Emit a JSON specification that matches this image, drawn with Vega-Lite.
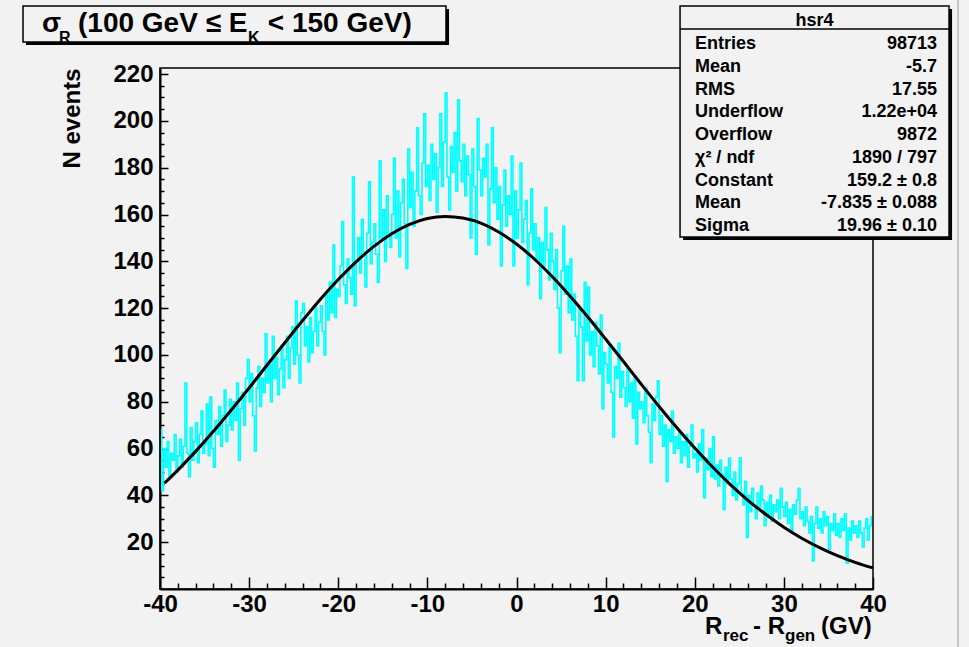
{
 "$schema": "https://vega.github.io/schema/vega-lite/v6.json",
 "width": 713,
 "height": 521,
 "autosize": "none",
 "padding": {"left": 160, "top": 68, "right": 96, "bottom": 58},
 "background": "#f2f2f2",
 "config": {"view": {"stroke": "#000", "strokeWidth": 1.5, "fill": "#f2f2f2"}, "font": "Liberation Sans"},
 "datasets": {
  "hist": [
{"x":-39.9,"n":68},{"x":-39.7,"n":42},{"x":-39.5,"n":60},{"x":-39.3,"n":52},{"x":-39.1,"n":63},{"x":-38.9,"n":48},{"x":-38.7,"n":58},{"x":-38.5,"n":55},{"x":-38.3,"n":66},{"x":-38.1,"n":50},
{"x":-37.9,"n":57},{"x":-37.7,"n":64},{"x":-37.5,"n":52},{"x":-37.3,"n":61},{"x":-37.1,"n":88},{"x":-36.9,"n":58},{"x":-36.7,"n":48},{"x":-36.5,"n":69},{"x":-36.3,"n":55},{"x":-36.1,"n":63},
{"x":-35.9,"n":71},{"x":-35.7,"n":54},{"x":-35.5,"n":66},{"x":-35.3,"n":76},{"x":-35.1,"n":58},{"x":-34.9,"n":62},{"x":-34.7,"n":79},{"x":-34.5,"n":57},{"x":-34.3,"n":82},{"x":-34.1,"n":60},
{"x":-33.9,"n":52},{"x":-33.7,"n":72},{"x":-33.5,"n":66},{"x":-33.3,"n":78},{"x":-33.1,"n":61},{"x":-32.9,"n":74},{"x":-32.7,"n":85},{"x":-32.5,"n":63},{"x":-32.3,"n":70},{"x":-32.1,"n":81},
{"x":-31.9,"n":68},{"x":-31.7,"n":80},{"x":-31.5,"n":72},{"x":-31.3,"n":88},{"x":-31.1,"n":55},{"x":-30.9,"n":77},{"x":-30.7,"n":84},{"x":-30.5,"n":70},{"x":-30.3,"n":90},{"x":-30.1,"n":98},
{"x":-29.9,"n":80},{"x":-29.7,"n":92},{"x":-29.5,"n":74},{"x":-29.3,"n":59},{"x":-29.1,"n":86},{"x":-28.9,"n":95},{"x":-28.7,"n":78},{"x":-28.5,"n":90},{"x":-28.3,"n":84},{"x":-28.1,"n":109},
{"x":-27.9,"n":88},{"x":-27.7,"n":96},{"x":-27.5,"n":80},{"x":-27.3,"n":108},{"x":-27.1,"n":90},{"x":-26.9,"n":99},{"x":-26.7,"n":83},{"x":-26.5,"n":94},{"x":-26.3,"n":104},{"x":-26.1,"n":86},
{"x":-25.9,"n":98},{"x":-25.7,"n":108},{"x":-25.5,"n":90},{"x":-25.3,"n":103},{"x":-25.1,"n":112},{"x":-24.9,"n":96},{"x":-24.7,"n":123},{"x":-24.5,"n":100},{"x":-24.3,"n":88},{"x":-24.1,"n":118},
{"x":-23.9,"n":122},{"x":-23.7,"n":104},{"x":-23.5,"n":112},{"x":-23.3,"n":97},{"x":-23.1,"n":116},{"x":-22.9,"n":101},{"x":-22.7,"n":110},{"x":-22.5,"n":120},{"x":-22.3,"n":104},{"x":-22.1,"n":114},
{"x":-21.9,"n":121},{"x":-21.7,"n":110},{"x":-21.5,"n":100},{"x":-21.3,"n":126},{"x":-21.1,"n":115},{"x":-20.9,"n":131},{"x":-20.7,"n":118},{"x":-20.5,"n":147},{"x":-20.3,"n":116},{"x":-20.1,"n":128},
{"x":-19.9,"n":125},{"x":-19.7,"n":138},{"x":-19.5,"n":157},{"x":-19.3,"n":130},{"x":-19.1,"n":122},{"x":-18.9,"n":141},{"x":-18.7,"n":133},{"x":-18.5,"n":126},{"x":-18.3,"n":176},{"x":-18.1,"n":121},
{"x":-17.9,"n":140},{"x":-17.7,"n":150},{"x":-17.5,"n":135},{"x":-17.3,"n":158},{"x":-17.1,"n":144},{"x":-16.9,"n":129},{"x":-16.7,"n":152},{"x":-16.5,"n":174},{"x":-16.3,"n":139},{"x":-16.1,"n":148},
{"x":-15.9,"n":156},{"x":-15.7,"n":143},{"x":-15.5,"n":131},{"x":-15.3,"n":183},{"x":-15.1,"n":150},{"x":-14.9,"n":162},{"x":-14.7,"n":140},{"x":-14.5,"n":168},{"x":-14.3,"n":152},{"x":-14.1,"n":146},
{"x":-13.9,"n":160},{"x":-13.7,"n":184},{"x":-13.5,"n":150},{"x":-13.3,"n":170},{"x":-13.1,"n":142},{"x":-12.9,"n":165},{"x":-12.7,"n":175},{"x":-12.5,"n":156},{"x":-12.3,"n":137},{"x":-12.1,"n":188},
{"x":-11.9,"n":163},{"x":-11.7,"n":178},{"x":-11.5,"n":155},{"x":-11.3,"n":170},{"x":-11.1,"n":197},{"x":-10.9,"n":168},{"x":-10.7,"n":160},{"x":-10.5,"n":182},{"x":-10.3,"n":203},{"x":-10.1,"n":172},
{"x":-9.9,"n":181},{"x":-9.7,"n":166},{"x":-9.5,"n":190},{"x":-9.3,"n":175},{"x":-9.1,"n":186},{"x":-8.9,"n":161},{"x":-8.7,"n":180},{"x":-8.5,"n":203},{"x":-8.3,"n":172},{"x":-8.1,"n":191},
{"x":-7.9,"n":212},{"x":-7.7,"n":176},{"x":-7.5,"n":162},{"x":-7.3,"n":189},{"x":-7.1,"n":178},{"x":-6.9,"n":195},{"x":-6.7,"n":170},{"x":-6.5,"n":209},{"x":-6.3,"n":183},{"x":-6.1,"n":174},
{"x":-5.9,"n":190},{"x":-5.7,"n":168},{"x":-5.5,"n":185},{"x":-5.3,"n":177},{"x":-5.1,"n":150},{"x":-4.9,"n":188},{"x":-4.7,"n":172},{"x":-4.5,"n":143},{"x":-4.3,"n":201},{"x":-4.1,"n":179},
{"x":-3.9,"n":168},{"x":-3.7,"n":184},{"x":-3.5,"n":176},{"x":-3.3,"n":190},{"x":-3.1,"n":147},{"x":-2.9,"n":171},{"x":-2.7,"n":197},{"x":-2.5,"n":165},{"x":-2.3,"n":180},{"x":-2.1,"n":158},
{"x":-1.9,"n":172},{"x":-1.7,"n":138},{"x":-1.5,"n":164},{"x":-1.3,"n":179},{"x":-1.1,"n":155},{"x":-0.9,"n":168},{"x":-0.7,"n":160},{"x":-0.5,"n":185},{"x":-0.3,"n":138},{"x":-0.1,"n":170},
{"x":0.1,"n":150},{"x":0.3,"n":162},{"x":0.5,"n":182},{"x":0.7,"n":148},{"x":0.9,"n":158},{"x":1.1,"n":166},{"x":1.3,"n":130},{"x":1.5,"n":152},{"x":1.7,"n":171},{"x":1.9,"n":145},
{"x":2.1,"n":156},{"x":2.3,"n":140},{"x":2.5,"n":150},{"x":2.7,"n":124},{"x":2.9,"n":148},{"x":3.1,"n":138},{"x":3.3,"n":163},{"x":3.5,"n":145},{"x":3.7,"n":132},{"x":3.9,"n":152},
{"x":4.1,"n":140},{"x":4.3,"n":128},{"x":4.5,"n":145},{"x":4.7,"n":120},{"x":4.9,"n":101},{"x":5.1,"n":136},{"x":5.3,"n":155},{"x":5.5,"n":126},{"x":5.7,"n":138},{"x":5.9,"n":118},
{"x":6.1,"n":141},{"x":6.3,"n":115},{"x":6.5,"n":126},{"x":6.7,"n":108},{"x":6.9,"n":89},{"x":7.1,"n":120},{"x":7.3,"n":112},{"x":7.5,"n":89},{"x":7.7,"n":131},{"x":7.9,"n":106},
{"x":8.1,"n":129},{"x":8.3,"n":100},{"x":8.5,"n":110},{"x":8.7,"n":95},{"x":8.9,"n":114},{"x":9.1,"n":104},{"x":9.3,"n":92},{"x":9.5,"n":117},{"x":9.7,"n":77},{"x":9.9,"n":101},
{"x":10.1,"n":96},{"x":10.3,"n":88},{"x":10.5,"n":104},{"x":10.7,"n":84},{"x":10.9,"n":65},{"x":11.1,"n":95},{"x":11.3,"n":90},{"x":11.5,"n":105},{"x":11.7,"n":82},{"x":11.9,"n":93},
{"x":12.1,"n":86},{"x":12.3,"n":78},{"x":12.5,"n":95},{"x":12.7,"n":80},{"x":12.9,"n":88},{"x":13.1,"n":73},{"x":13.3,"n":91},{"x":13.5,"n":62},{"x":13.7,"n":84},{"x":13.9,"n":77},
{"x":14.1,"n":80},{"x":14.3,"n":71},{"x":14.5,"n":86},{"x":14.7,"n":74},{"x":14.9,"n":67},{"x":15.1,"n":54},{"x":15.3,"n":79},{"x":15.5,"n":72},{"x":15.7,"n":82},{"x":15.9,"n":89},
{"x":16.1,"n":66},{"x":16.3,"n":74},{"x":16.5,"n":61},{"x":16.7,"n":70},{"x":16.9,"n":46},{"x":17.1,"n":68},{"x":17.3,"n":63},{"x":17.5,"n":76},{"x":17.7,"n":58},{"x":17.9,"n":65},
{"x":18.1,"n":60},{"x":18.3,"n":67},{"x":18.5,"n":54},{"x":18.7,"n":63},{"x":18.9,"n":57},{"x":19.1,"n":66},{"x":19.3,"n":52},{"x":19.5,"n":61},{"x":19.7,"n":70},{"x":19.9,"n":56},
{"x":20.1,"n":58},{"x":20.3,"n":50},{"x":20.5,"n":62},{"x":20.7,"n":55},{"x":20.9,"n":68},{"x":21.1,"n":39},{"x":21.3,"n":56},{"x":21.5,"n":51},{"x":21.7,"n":60},{"x":21.9,"n":48},
{"x":22.1,"n":65},{"x":22.3,"n":47},{"x":22.5,"n":53},{"x":22.7,"n":44},{"x":22.9,"n":55},{"x":23.1,"n":49},{"x":23.3,"n":34},{"x":23.5,"n":52},{"x":23.7,"n":45},{"x":23.9,"n":56},
{"x":24.1,"n":47},{"x":24.3,"n":40},{"x":24.5,"n":50},{"x":24.7,"n":38},{"x":24.9,"n":45},{"x":25.1,"n":56},{"x":25.3,"n":41},{"x":25.5,"n":36},{"x":25.7,"n":46},{"x":25.9,"n":22},
{"x":26.1,"n":40},{"x":26.3,"n":33},{"x":26.5,"n":43},{"x":26.7,"n":36},{"x":26.9,"n":30},{"x":27.1,"n":41},{"x":27.3,"n":35},{"x":27.5,"n":44},{"x":27.7,"n":38},{"x":27.9,"n":27},
{"x":28.1,"n":37},{"x":28.3,"n":32},{"x":28.5,"n":40},{"x":28.7,"n":29},{"x":28.9,"n":36},{"x":29.1,"n":33},{"x":29.3,"n":38},{"x":29.5,"n":30},{"x":29.7,"n":43},{"x":29.9,"n":35},
{"x":30.1,"n":31},{"x":30.3,"n":37},{"x":30.5,"n":28},{"x":30.7,"n":34},{"x":30.9,"n":25},{"x":31.1,"n":36},{"x":31.3,"n":32},{"x":31.5,"n":38},{"x":31.7,"n":43},{"x":31.9,"n":30},
{"x":32.1,"n":33},{"x":32.3,"n":27},{"x":32.5,"n":35},{"x":32.7,"n":29},{"x":32.9,"n":24},{"x":33.1,"n":31},{"x":33.3,"n":12},{"x":33.5,"n":28},{"x":33.7,"n":35},{"x":33.9,"n":26},
{"x":34.1,"n":30},{"x":34.3,"n":24},{"x":34.5,"n":33},{"x":34.7,"n":27},{"x":34.9,"n":31},{"x":35.1,"n":17},{"x":35.3,"n":28},{"x":35.5,"n":25},{"x":35.7,"n":32},{"x":35.9,"n":23},
{"x":36.1,"n":28},{"x":36.3,"n":22},{"x":36.5,"n":30},{"x":36.7,"n":25},{"x":36.9,"n":32},{"x":37.1,"n":11},{"x":37.3,"n":26},{"x":37.5,"n":21},{"x":37.7,"n":29},{"x":37.9,"n":24},
{"x":38.1,"n":27},{"x":38.3,"n":22},{"x":38.5,"n":29},{"x":38.7,"n":24},{"x":38.9,"n":18},{"x":39.1,"n":26},{"x":39.3,"n":30},{"x":39.5,"n":21},{"x":39.7,"n":27},{"x":39.9,"n":31}
  ],
  "fit": [
{"x":-39.5,"f":45.2},{"x":-38,"f":50.8},{"x":-36,"f":58.8},{"x":-34,"f":67.4},{"x":-32,"f":76.5},{"x":-30,"f":85.9},{"x":-28,"f":95.6},{"x":-26,"f":105.2},{"x":-24,"f":114.7},{"x":-22,"f":123.8},{"x":-20,"f":132.2},{"x":-18,"f":139.8},{"x":-16,"f":146.4},{"x":-14,"f":151.8},{"x":-12,"f":155.8},{"x":-10,"f":158.3},{"x":-8,"f":159.2},{"x":-6,"f":158.5},{"x":-4,"f":156.3},{"x":-2,"f":152.5},{"x":0,"f":147.4},{"x":2,"f":141.0},{"x":4,"f":133.5},{"x":6,"f":125.2},{"x":8,"f":116.2},{"x":10,"f":106.8},{"x":12,"f":97.2},{"x":14,"f":87.5},{"x":16,"f":78.0},{"x":18,"f":68.9},{"x":20,"f":60.2},{"x":22,"f":52.1},{"x":24,"f":44.6},{"x":26,"f":37.8},{"x":28,"f":31.8},{"x":30,"f":26.4},{"x":32,"f":21.7},{"x":34,"f":17.7},{"x":36,"f":14.3},{"x":38,"f":11.4},{"x":40,"f":9.0}
  ]
 },
 "resolve": {"axis": {"x": "independent", "y": "independent"}},
 "layer": [
  {
   "data": {"name": "hist"},
   "mark": {"type": "line", "interpolate": "step", "color": "#00ffff", "strokeWidth": 1.6},
   "encoding": {
    "x": {"field": "x", "type": "quantitative", "scale": {"domain": [-40, 40], "nice": false, "zero": false},
     "axis": {"orient": "bottom", "values": [-40, -30, -20, -10, 0, 10, 20, 30, 40], "title": null, "grid": false, "domain": true, "domainColor": "#000", "domainWidth": 2, "tickSize": -12, "tickColor": "#000", "tickWidth": 1.5, "labelFont": "Liberation Sans", "labelFontWeight": "bold", "labelFontSize": 24, "labelColor": "#000", "labelPadding": 15, "labelFlush": false, "labelOverlap": false, "labelExpr": "'' + datum.value"}},
    "y": {"field": "n", "type": "quantitative", "scale": {"domain": [0, 222.6], "nice": false, "zero": false},
     "axis": {"orient": "left", "values": [20, 40, 60, 80, 100, 120, 140, 160, 180, 200, 220], "title": "N events", "titleFont": "Liberation Sans", "titleFontWeight": "bold", "titleFontSize": 24, "titleColor": "#000", "titleAngle": 270, "titleAlign": "right", "titleBaseline": "alphabetic", "titleX": -80.7, "titleY": 0, "grid": false, "domain": true, "domainColor": "#000", "domainWidth": 2, "tickSize": -8, "tickColor": "#000", "tickWidth": 1.5, "labelFont": "Liberation Sans", "labelFontWeight": "bold", "labelFontSize": 24, "labelColor": "#000", "labelPadding": 15, "labelOverlap": false}}
   }
  },
  {
   "data": {"name": "fit"},
   "mark": {"type": "line", "interpolate": "monotone", "color": "#000", "strokeWidth": 3},
   "encoding": {
    "x": {"field": "x", "type": "quantitative", "scale": {"domain": [-40, 40], "nice": false, "zero": false},
     "axis": {"orient": "bottom", "values": [-38, -36, -34, -32, -28, -26, -24, -22, -18, -16, -14, -12, -8, -6, -4, -2, 2, 4, 6, 8, 12, 14, 16, 18, 22, 24, 26, 28, 32, 34, 36, 38], "title": null, "grid": false, "domain": false, "labels": false, "tickSize": -6, "tickColor": "#000", "tickWidth": 1.5}},
    "y": {"field": "f", "type": "quantitative", "scale": {"domain": [0, 222.6], "nice": false, "zero": false},
     "axis": {"orient": "left", "values": [5, 10, 15, 25, 30, 35, 45, 50, 55, 65, 70, 75, 85, 90, 95, 105, 110, 115, 125, 130, 135, 145, 150, 155, 165, 170, 175, 185, 190, 195, 205, 210, 215], "title": null, "grid": false, "domain": false, "labels": false, "tickSize": -4, "tickColor": "#000", "tickWidth": 1.5}}
   }
  },
  {
   "data": {"values": [{}]},
   "mark": {"type": "rule", "color": "#9a9a9a", "strokeWidth": 1},
   "encoding": {
    "x": {"datum": 49.54, "type": "quantitative", "scale": {"domain": [-40, 40], "nice": false, "zero": false}, "axis": null},
    "y": {"datum": 251.6, "type": "quantitative", "scale": {"domain": [0, 222.6], "nice": false, "zero": false}, "axis": null},
    "y2": {"datum": -24.8}
   }
  },
  {
   "data": {"values": [{}]},
   "mark": {"type": "rect", "fill": "#000"},
   "encoding": {
    "x": {"datum": -55.03, "type": "quantitative", "scale": {"domain": [-40, 40], "nice": false, "zero": false}, "axis": null},
    "x2": {"datum": -7.57},
    "y": {"datum": 247.8, "type": "quantitative", "scale": {"domain": [0, 222.6], "nice": false, "zero": false}, "axis": null},
    "y2": {"datum": 232.4}
   }
  },
  {
   "data": {"values": [{}]},
   "mark": {"type": "rect", "fill": "#f2f2f2", "stroke": "#000", "strokeWidth": 1.5},
   "encoding": {
    "x": {"datum": -55.37, "type": "quantitative", "scale": {"domain": [-40, 40], "nice": false, "zero": false}, "axis": null},
    "x2": {"datum": -7.91},
    "y": {"datum": 249.1, "type": "quantitative", "scale": {"domain": [0, 222.6], "nice": false, "zero": false}, "axis": null},
    "y2": {"datum": 233.7}
   }
  },
  {
   "data": {"values": [{}]},
   "mark": {"type": "text", "align": "left", "baseline": "alphabetic", "font": "Liberation Sans", "fontWeight": "bold", "fontSize": 28, "color": "#000"},
   "encoding": {
    "x": {"datum": -53.24, "type": "quantitative", "scale": {"domain": [-40, 40], "nice": false, "zero": false}, "axis": null},
    "y": {"datum": 238.0, "type": "quantitative", "scale": {"domain": [0, 222.6], "nice": false, "zero": false}, "axis": null},
    "text": {"value": "σ"}
   }
  },
  {
   "data": {"values": [{}]},
   "mark": {"type": "text", "align": "left", "baseline": "alphabetic", "font": "Liberation Sans", "fontWeight": "bold", "fontSize": 16, "color": "#000"},
   "encoding": {
    "x": {"datum": -51.33, "type": "quantitative", "scale": {"domain": [-40, 40], "nice": false, "zero": false}, "axis": null},
    "y": {"datum": 233.1, "type": "quantitative", "scale": {"domain": [0, 222.6], "nice": false, "zero": false}, "axis": null},
    "text": {"value": "R"}
   }
  },
  {
   "data": {"values": [{}]},
   "mark": {"type": "text", "align": "left", "baseline": "alphabetic", "font": "Liberation Sans", "fontWeight": "bold", "fontSize": 28, "color": "#000"},
   "encoding": {
    "x": {"datum": -49.2, "type": "quantitative", "scale": {"domain": [-40, 40], "nice": false, "zero": false}, "axis": null},
    "y": {"datum": 238.0, "type": "quantitative", "scale": {"domain": [0, 222.6], "nice": false, "zero": false}, "axis": null},
    "text": {"value": "(100 GeV ≤ E"}
   }
  },
  {
   "data": {"values": [{}]},
   "mark": {"type": "text", "align": "left", "baseline": "alphabetic", "font": "Liberation Sans", "fontWeight": "bold", "fontSize": 16, "color": "#000"},
   "encoding": {
    "x": {"datum": -30.12, "type": "quantitative", "scale": {"domain": [-40, 40], "nice": false, "zero": false}, "axis": null},
    "y": {"datum": 233.1, "type": "quantitative", "scale": {"domain": [0, 222.6], "nice": false, "zero": false}, "axis": null},
    "text": {"value": "K"}
   }
  },
  {
   "data": {"values": [{}]},
   "mark": {"type": "text", "align": "left", "baseline": "alphabetic", "font": "Liberation Sans", "fontWeight": "bold", "fontSize": 28, "color": "#000"},
   "encoding": {
    "x": {"datum": -27.9, "type": "quantitative", "scale": {"domain": [-40, 40], "nice": false, "zero": false}, "axis": null},
    "y": {"datum": 238.0, "type": "quantitative", "scale": {"domain": [0, 222.6], "nice": false, "zero": false}, "axis": null},
    "text": {"value": "< 150 GeV)"}
   }
  },
  {
   "data": {"values": [{}]},
   "mark": {"type": "rect", "fill": "#000"},
   "encoding": {
    "x": {"datum": 18.69, "type": "quantitative", "scale": {"domain": [-40, 40], "nice": false, "zero": false}, "axis": null},
    "x2": {"datum": 48.87},
    "y": {"datum": 247.8, "type": "quantitative", "scale": {"domain": [0, 222.6], "nice": false, "zero": false}, "axis": null},
    "y2": {"datum": 149.1}
   }
  },
  {
   "data": {"values": [{}]},
   "mark": {"type": "rect", "fill": "#f2f2f2", "stroke": "#000", "strokeWidth": 1.5},
   "encoding": {
    "x": {"datum": 18.35, "type": "quantitative", "scale": {"domain": [-40, 40], "nice": false, "zero": false}, "axis": null},
    "x2": {"datum": 48.53},
    "y": {"datum": 249.1, "type": "quantitative", "scale": {"domain": [0, 222.6], "nice": false, "zero": false}, "axis": null},
    "y2": {"datum": 150.4}
   }
  },
  {
   "data": {"values": [{}]},
   "mark": {"type": "rule", "color": "#000", "strokeWidth": 1.5},
   "encoding": {
    "x": {"datum": 18.35, "type": "quantitative", "scale": {"domain": [-40, 40], "nice": false, "zero": false}, "axis": null},
    "x2": {"datum": 48.53},
    "y": {"datum": 239.3, "type": "quantitative", "scale": {"domain": [0, 222.6], "nice": false, "zero": false}, "axis": null}
   }
  },
  {
   "data": {"values": [{}]},
   "mark": {"type": "text", "align": "center", "baseline": "middle", "font": "Liberation Sans", "fontWeight": "bold", "fontSize": 18, "color": "#000"},
   "encoding": {
    "x": {"datum": 33.44, "type": "quantitative", "scale": {"domain": [-40, 40], "nice": false, "zero": false}, "axis": null},
    "y": {"datum": 242.7, "type": "quantitative", "scale": {"domain": [0, 222.6], "nice": false, "zero": false}, "axis": null},
    "text": {"value": "hsr4"}
   }
  },
  {
   "data": {"values": [{}]},
   "mark": {"type": "text", "align": "left", "baseline": "top", "font": "Liberation Sans", "fontWeight": "bold", "fontSize": 18, "lineHeight": 22.75, "color": "#000"},
   "encoding": {
    "x": {"datum": 20.03, "type": "quantitative", "scale": {"domain": [-40, 40], "nice": false, "zero": false}, "axis": null},
    "y": {"datum": 236.6, "type": "quantitative", "scale": {"domain": [0, 222.6], "nice": false, "zero": false}, "axis": null},
    "text": {"value": ["Entries", "Mean", "RMS", "Underflow", "Overflow", "χ² / ndf", "Constant", "Mean", "Sigma"]}
   }
  },
  {
   "data": {"values": [{}]},
   "mark": {"type": "text", "align": "right", "baseline": "top", "font": "Liberation Sans", "fontWeight": "bold", "fontSize": 18, "lineHeight": 22.75, "color": "#000"},
   "encoding": {
    "x": {"datum": 47.18, "type": "quantitative", "scale": {"domain": [-40, 40], "nice": false, "zero": false}, "axis": null},
    "y": {"datum": 236.6, "type": "quantitative", "scale": {"domain": [0, 222.6], "nice": false, "zero": false}, "axis": null},
    "text": {"value": ["98713", "-5.7", "17.55", "1.22e+04", "9872", "1890 / 797", "159.2 ± 0.8", "-7.835 ± 0.088", "19.96 ± 0.10"]}
   }
  },
  {
   "data": {"values": [{}]},
   "mark": {"type": "text", "align": "left", "baseline": "alphabetic", "font": "Liberation Sans", "fontWeight": "bold", "fontSize": 24, "color": "#000"},
   "encoding": {
    "x": {"datum": 21.15, "type": "quantitative", "scale": {"domain": [-40, 40], "nice": false, "zero": false}, "axis": null},
    "y": {"datum": -19.2, "type": "quantitative", "scale": {"domain": [0, 222.6], "nice": false, "zero": false}, "axis": null},
    "text": {"value": "R"}
   }
  },
  {
   "data": {"values": [{}]},
   "mark": {"type": "text", "align": "left", "baseline": "alphabetic", "font": "Liberation Sans", "fontWeight": "bold", "fontSize": 17, "color": "#000"},
   "encoding": {
    "x": {"datum": 23.17, "type": "quantitative", "scale": {"domain": [-40, 40], "nice": false, "zero": false}, "axis": null},
    "y": {"datum": -22.2, "type": "quantitative", "scale": {"domain": [0, 222.6], "nice": false, "zero": false}, "axis": null},
    "text": {"value": "rec"}
   }
  },
  {
   "data": {"values": [{}]},
   "mark": {"type": "text", "align": "left", "baseline": "alphabetic", "font": "Liberation Sans", "fontWeight": "bold", "fontSize": 24, "color": "#000"},
   "encoding": {
    "x": {"datum": 26.54, "type": "quantitative", "scale": {"domain": [-40, 40], "nice": false, "zero": false}, "axis": null},
    "y": {"datum": -19.2, "type": "quantitative", "scale": {"domain": [0, 222.6], "nice": false, "zero": false}, "axis": null},
    "text": {"value": "- R"}
   }
  },
  {
   "data": {"values": [{}]},
   "mark": {"type": "text", "align": "left", "baseline": "alphabetic", "font": "Liberation Sans", "fontWeight": "bold", "fontSize": 17, "color": "#000"},
   "encoding": {
    "x": {"datum": 30.13, "type": "quantitative", "scale": {"domain": [-40, 40], "nice": false, "zero": false}, "axis": null},
    "y": {"datum": -22.2, "type": "quantitative", "scale": {"domain": [0, 222.6], "nice": false, "zero": false}, "axis": null},
    "text": {"value": "gen"}
   }
  },
  {
   "data": {"values": [{}]},
   "mark": {"type": "text", "align": "left", "baseline": "alphabetic", "font": "Liberation Sans", "fontWeight": "bold", "fontSize": 24, "color": "#000"},
   "encoding": {
    "x": {"datum": 34.17, "type": "quantitative", "scale": {"domain": [-40, 40], "nice": false, "zero": false}, "axis": null},
    "y": {"datum": -19.2, "type": "quantitative", "scale": {"domain": [0, 222.6], "nice": false, "zero": false}, "axis": null},
    "text": {"value": "(GV)"}
   }
  }
 ]
}
